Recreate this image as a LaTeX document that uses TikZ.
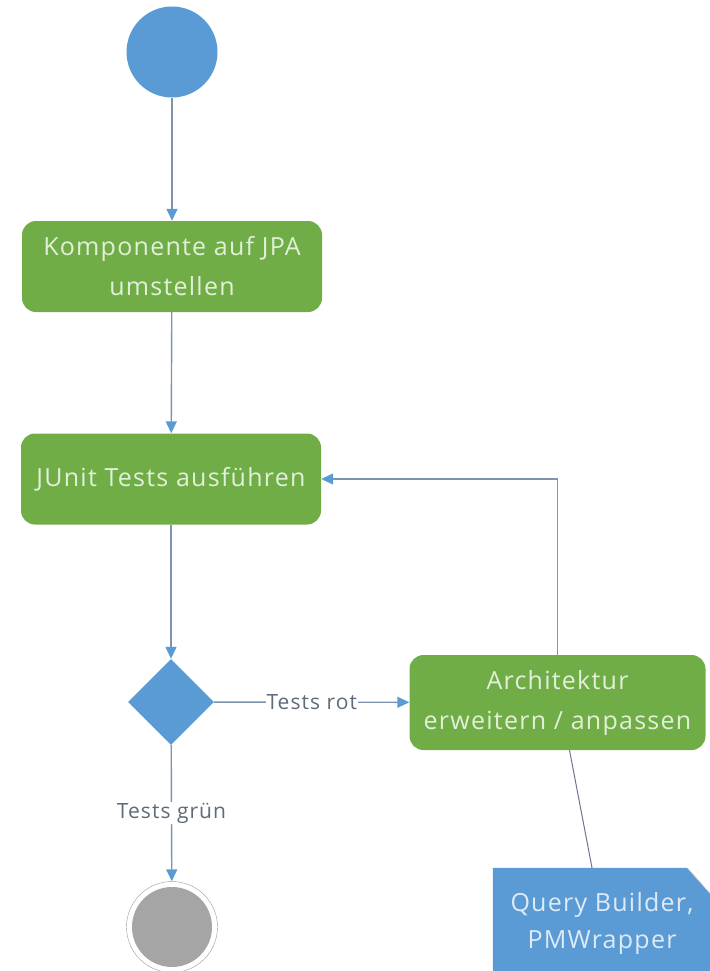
\documentclass[tikz,border=0pt]{standalone}
\usepackage{fontspec}
\setmainfont{Open Sans}
\newfontfamily\diagfont[LetterSpace=5]{Open Sans}
\usetikzlibrary{shapes,arrows.meta,positioning,backgrounds,calc}

\definecolor{actgreen}{HTML}{70AD47}
\definecolor{acttext}{HTML}{E2F0D9}
\definecolor{ctrlblue}{HTML}{5B9BD5}
\definecolor{flowline}{HTML}{7D93AE}
\definecolor{guardtext}{HTML}{5E6B78}
\definecolor{endgrey}{HTML}{A5A5A5}
\definecolor{notetext}{HTML}{DEEBF7}

\tikzset{
  action/.style={rectangle, rounded corners=14pt, fill=actgreen, text=acttext,
    minimum width=300pt, minimum height=91pt, align=center,
    font=\diagfont\fontsize{25}{40}\selectfont},
  initial/.style={circle, fill=ctrlblue, minimum size=91pt, inner sep=0pt},
  final/.style={circle, draw=gray!80, fill=white, minimum size=91pt, inner sep=0pt},
  decision/.style={diamond, fill=ctrlblue, minimum width=86pt, minimum height=86pt, inner sep=0pt},
  note/.style={rectangle, minimum width=218pt, minimum height=110pt, text=notetext,
    align=center, font=\diagfont\fontsize{25}{37}\selectfont},
  flow/.style={draw=flowline, line width=1.4pt,
    -{Triangle[length=12pt,width=11pt,color=ctrlblue]}},
  noteline/.style={draw=gray!90!blue, line width=1pt},
  guard/.style={fill=white, text=guardtext, inner sep=1pt,
    font=\diagfont\fontsize{21}{26}\selectfont}
}

\begin{document}
\begin{tikzpicture}[x=1pt, y=-1pt]
  \clip (0,0) rectangle (709,971);

  % activity flow
  \node[initial] (start) at (172,52) {};
  \node[action] (migrate) at (172,266.5) {Komponente auf JPA\\umstellen};
  \node[action] (junit) at (171,479) {JUnit Tests ausführen};
  \node[decision] (check) at (171,702) {};
  \node[action, minimum width=296pt, minimum height=95pt] (arch) at (557.5,702.5)
    {Architektur\\erweitern / anpassen};
  \node[final] (done) at (172,927) {};
  \fill[endgrey] (done.center) circle (40pt);

  % comment
  \node[note] (hint) at (602,923) {Query Builder,\\PMWrapper};
  \begin{scope}[on background layer]
    \fill[ctrlblue] (hint.south west) -- (hint.north west)
      -- ([xshift=-24pt]hint.north east) -- ([yshift=-27pt]hint.north east)
      -- (hint.south east) -- cycle;
    \draw[red!20!gray!40, line width=0.6pt] ([xshift=-24pt]hint.north east)
      -- ([yshift=-27pt]hint.north east);
  \end{scope}

  \draw[flow] (start) -- (migrate);
  \draw[flow] (migrate) -- (junit);
  \draw[flow] (junit) -- (check);
  \draw[flow] (check) -- node[guard] {Tests rot} (arch);
  \draw[flow] (check) -- node[guard] {Tests grün} (done);
  \draw[flow] (arch.north) |- (junit.east);
  \draw[noteline] ([xshift=12pt]arch.south) -- ([xshift=-10pt]hint.north);
\end{tikzpicture}
\end{document}
